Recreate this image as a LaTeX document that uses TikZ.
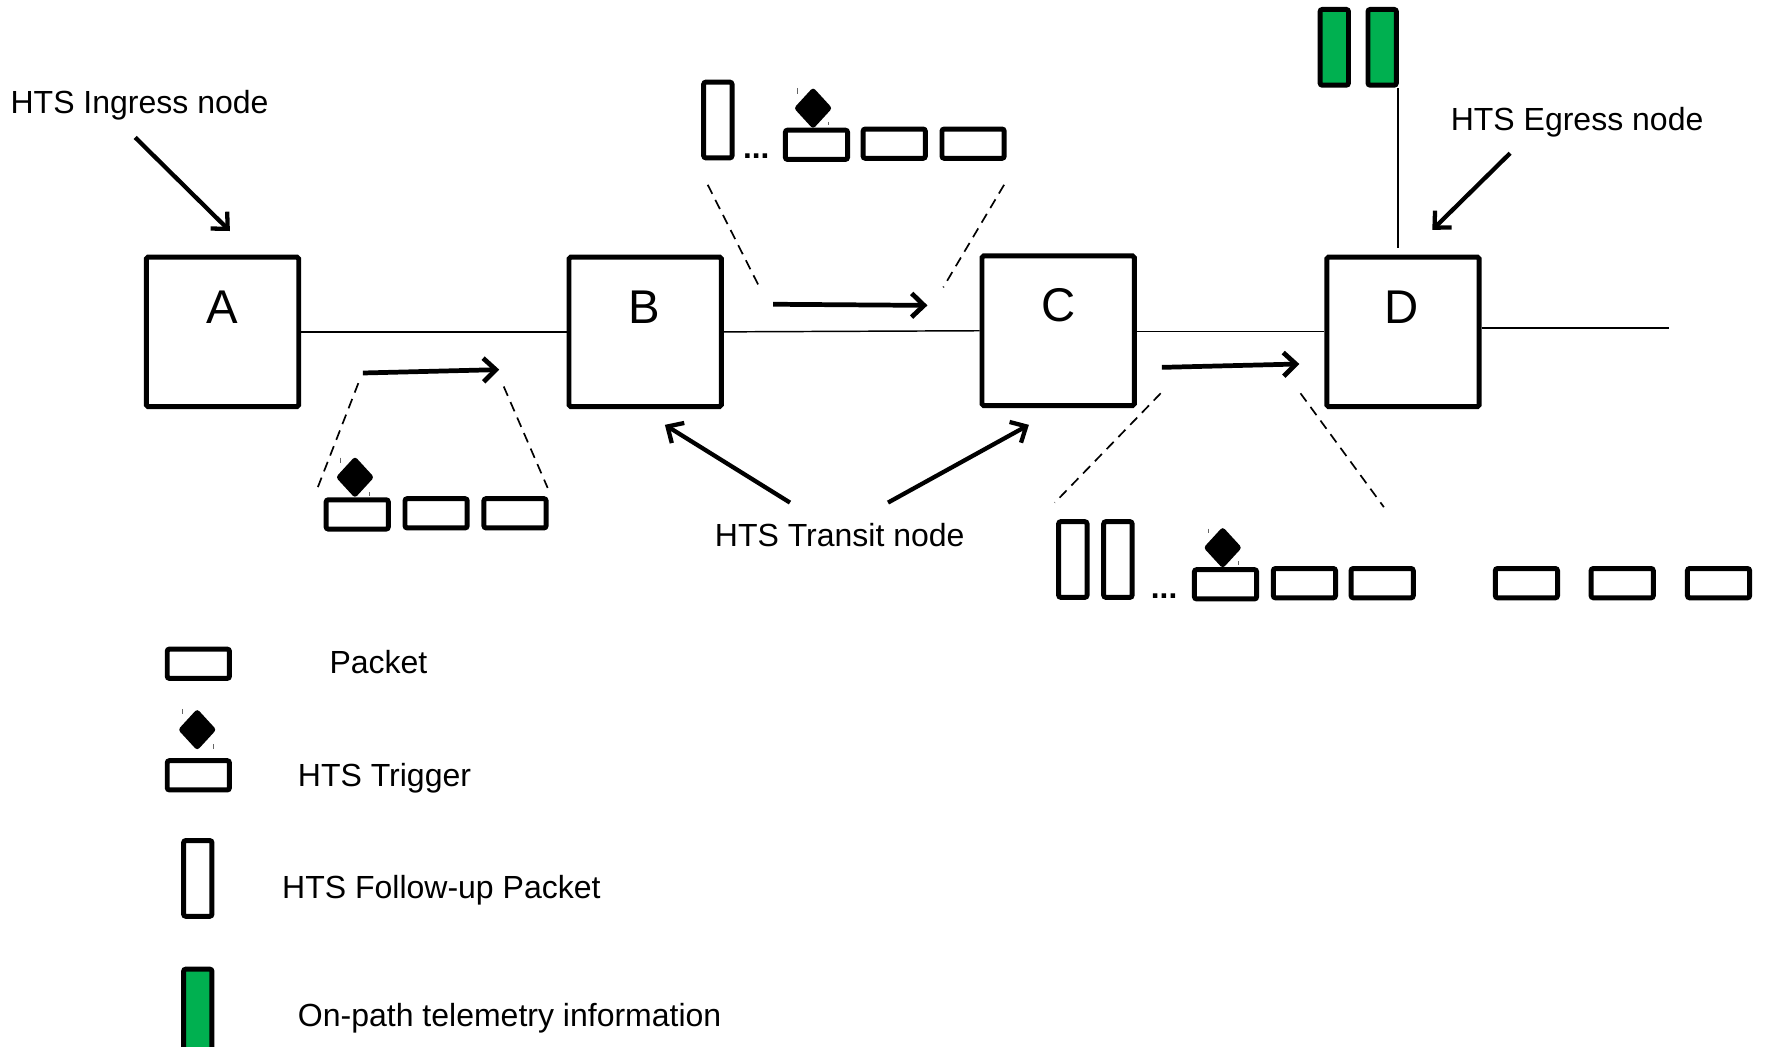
\documentclass[tikz,border=0pt]{standalone}
\usepackage{fontspec}
\setmainfont{Liberation Sans}
\usetikzlibrary{shapes.geometric,arrows.meta}
\definecolor{tgreen}{HTML}{00B050}
\begin{document}
\begin{tikzpicture}[x=0.5pt,y=-0.5pt,
  hnode/.style={draw, line width=2.2pt, rounded corners=0.8pt, minimum width=67.6pt, minimum height=66.4pt, inner sep=0},
  pkt/.style={draw, line width=2.2pt, rounded corners=1pt, minimum width=27.6pt, minimum height=13pt, inner sep=0},
  fup/.style={pkt, minimum width=12.6pt, minimum height=33.6pt},
  tele/.style={fup, fill=tgreen},
  trig/.style={diamond, fill=black, draw=black, line width=0.8pt, rounded corners=1pt, minimum width=16.2pt, minimum height=17.6pt, inner sep=0},
  lbl/.style={font=\fontsize{14.2}{16}\selectfont, inner sep=0, anchor=base west},
  big/.style={font=\fontsize{21}{24}\selectfont, inner sep=0, anchor=base},
  dots/.style={font=\fontsize{14}{16}\selectfont\bfseries, inner sep=0, anchor=base},
  link/.style={line width=0.65pt},
  flow/.style={line width=2.1pt, -{Straight Barb[length=5.5pt,width=10.5pt]}},
  pointer/.style={line width=1.9pt, -{Straight Barb[length=5.5pt,width=10.5pt]}},
  dline/.style={line width=0.75pt, dash pattern=on 4.5pt off 3pt},
  tick/.style={line width=0.4pt, black!60}]
\useasboundingbox (0,0) rectangle (1568,929);

% main nodes
\node[hnode] (A) at (197.5,294.5) {};
\node[hnode] (B) at (572.5,294.5) {};
\node[hnode] (C) at (939,293.5) {};
\node[hnode] (D) at (1245,294.5) {};
\node[big] (Al) at (197,287) {A};
\node[big] (Bl) at (572,287) {B};
\node[big] (Cl) at (939,285) {C};
\node[big] (Dl) at (1244,287) {D};

% links
\draw[link] (A.east) -- (B.west);
\draw[link] (B.east) -- (C.west);
\draw[link] (C.east |- 0,294) -- (D.west |- 0,294);
\coordinate (Dend) at (1481,291);
\draw[link] (D.east |- Dend) -- (Dend);

% telemetry above D
\node[tele] (g1) at (1184,42) {};
\node[tele] (g2) at (1226.5,42) {};
\coordinate (Dtop) at (1240.5,220);
\draw[link] (Dtop) -- (Dtop |- g2.south);

% labels and pointers
\node[lbl] (ing) at (9,101) {HTS Ingress node};
\coordinate (ing1) at (120,122); \coordinate (ing2) at (204,205);
\draw[pointer] (ing1) -- (ing2);
\node[lbl] (egr) at (1287,116) {HTS Egress node};
\coordinate (egr1) at (1340,136); \coordinate (egr2) at (1271,204);
\draw[pointer] (egr1) -- (egr2);
\node[lbl] (tra) at (634,485) {HTS Transit node};
\coordinate (tr1) at (701,446); \coordinate (tr2) at (590,377);
\coordinate (tr3) at (788,446); \coordinate (tr4) at (913,377);
\draw[pointer] (tr1) -- (tr2);
\draw[pointer] (tr3) -- (tr4);

% flow arrows
\coordinate (f1a) at (322,331); \coordinate (f1b) at (443,328);
\coordinate (f2a) at (686,270); \coordinate (f2b) at (823,271);
\coordinate (f3a) at (1031,326); \coordinate (f3b) at (1153,323);
\draw[flow] (f1a) -- (f1b);
\draw[flow] (f2a) -- (f2b);
\draw[flow] (f3a) -- (f3b);

% dashed zoom lines
\coordinate (d1a) at (318,340); \coordinate (d1b) at (281,435);
\coordinate (d2a) at (447,343); \coordinate (d2b) at (486,433);
\coordinate (d3a) at (628,164); \coordinate (d3b) at (674,255);
\coordinate (d4a) at (891,164); \coordinate (d4b) at (837,255);
\coordinate (d5a) at (1030,349); \coordinate (d5b) at (936,446);
\coordinate (d6a) at (1154,349); \coordinate (d6b) at (1228,450);
\draw[dline] (d1a) -- (d1b);
\draw[dline] (d2a) -- (d2b);
\draw[dline] (d3a) -- (d3b);
\draw[dline] (d4a) -- (d4b);
\draw[dline] (d5a) -- (d5b);
\draw[dline] (d6a) -- (d6b);

% group A-B
\node[pkt] (ab1) at (317,456.5) {};
\node[pkt] (ab2) at (387,455.5) {};
\node[pkt] (ab3) at (457,455.5) {};
\node[trig] (abt) at (315,423.5) {};
\draw[tick] (302,406) -- (302,411);
\draw[tick] (328,437) -- (328,440);

% group B-C
\node[fup] (bcf) at (637,106.5) {};
\node[dots] (bcd) at (671,141) {...};
\node[pkt] (bc1) at (724.5,128.5) {};
\node[pkt] (bc2) at (793.5,127.5) {};
\node[pkt] (bc3) at (863.5,127.5) {};
\node[trig] (bct) at (721.5,96) {};
\draw[tick] (708,78) -- (708,83);
\draw[tick] (735,108) -- (735,111);

% group C-D
\node[fup] (cdf1) at (952,496.5) {};
\node[dots] (cdd) at (1033,531) {...};
\node[fup] (cdf2) at (992,496.5) {};
\node[pkt] (cd1) at (1087.5,518.5) {};
\node[pkt] (cd2) at (1157.5,517.5) {};
\node[pkt] (cd3) at (1226.5,517.5) {};
\node[pkt] (cd4) at (1354.5,517.5) {};
\node[pkt] (cd5) at (1439.5,517.5) {};
\node[pkt] (cd6) at (1525,517.5) {};
\node[trig] (cdt) at (1085,486) {};
\draw[tick] (1072,469) -- (1072,473);
\draw[tick] (1099,498) -- (1099,501);

% legend
\node[pkt] (lp) at (176,589) {};
\node[lbl] (lpt) at (292,598) {Packet};
\node[trig] (ltd) at (175,647.5) {};
\draw[tick] (162,629) -- (162,634);
\draw[tick] (189,660) -- (189,665);
\node[pkt] (lt) at (176,688) {};
\node[lbl] (ltt) at (264,698) {HTS Trigger};
\node[fup] (lf) at (175.5,779.5) {};
\node[lbl] (lft) at (250,797) {HTS Follow-up Packet};
\node[tele, minimum height=40pt] (lg) at (175.5,900) {};
\node[lbl] (lgt) at (264,911) {On-path telemetry information};
\end{tikzpicture}
\end{document}
